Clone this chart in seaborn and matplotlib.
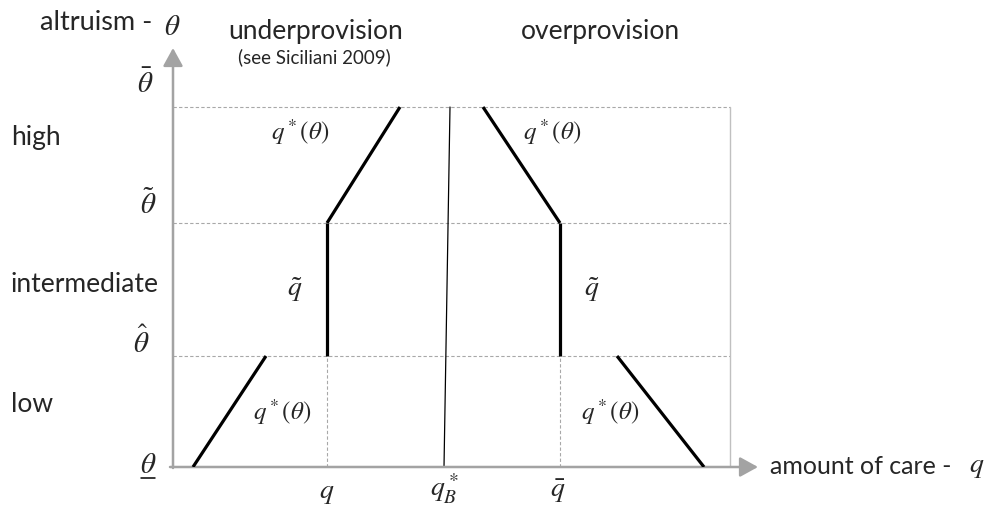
import matplotlib
matplotlib.use("Agg")
import matplotlib.pyplot as plt
import pandas as pd
import seaborn as sns

# Altruism thresholds (vertical axis): theta_low, theta_hat, theta_tilde, theta_bar
theta_levels = [0, 111, 244, 360]
# Care thresholds (horizontal axis): q_, q_B*, q_bar, right edge
q_under = 154
q_first_best = [271, 277]
q_over = 387
q_edge = 557

# Optimal care schedules q*(theta) in each altruism band
seg_names = ["under_low", "under_mid", "under_high",
             "over_high", "over_mid", "over_low"]
seg_q = [[20, 93], [154, 154], [154, 227],
         [310, 387], [387, 387], [444, 531]]
seg_theta = [[0, 111], [111, 244], [244, 360],
             [360, 244], [244, 111], [111, 0]]

band_labels = ["high", "intermediate", "low"]

sns.set_theme(style="white")
plt.rcParams["font.family"] = ["Lato", "DejaVu Sans"]
plt.rcParams["mathtext.fontset"] = "stix"

fig = plt.figure(figsize=(9.85, 5.07), dpi=100)
W, H = 985, 507
x0, y0 = 173, 467
x_tip, y_tip = 758, 48
ax = fig.add_axes([x0 / W, (H - y0) / H, (x_tip - x0) / W, (y0 - y_tip) / H])
ax.set_xlim(0, x_tip - x0)
ax.set_ylim(0, y0 - y_tip)
ax.axis("off")

grid_c = "#a8a8a8"
axis_c = "#a3a3a3"
TXT = 19
MATH = 20

# Dashed threshold lines
for t in theta_levels[1:]:
    ax.plot([0, q_edge], [t, t], color=grid_c, lw=0.8, ls=(0, (3, 2)), zorder=1)
for q in (q_under, q_over):
    ax.plot([q, q], [0, theta_levels[1]], color=grid_c, lw=0.8, ls=(0, (3, 2)), zorder=1)
ax.plot([q_edge, q_edge], [0, theta_levels[3]], color="#c0c0c0", lw=1.0, zorder=1)

# First-best care level
fb = pd.DataFrame({"q": q_first_best, "theta": [0, theta_levels[3]]})
sns.lineplot(data=fb, x="q", y="theta", color="black", lw=0.9, sort=False,
             estimator=None, ax=ax, zorder=3)

# Care schedules
rows = []
for name, qs, ts in zip(seg_names, seg_q, seg_theta):
    for q, t in zip(qs, ts):
        rows.append({"segment": name, "q": q, "theta": t})
segs = pd.DataFrame(rows)
sns.lineplot(data=segs, x="q", y="theta", units="segment", estimator=None,
             sort=False, color="black", lw=2.3, ax=ax, zorder=4,
             solid_capstyle="butt")

# Axes with arrow heads
arrow = dict(arrowstyle="-|>,head_length=1.0,head_width=0.55", color=axis_c,
             lw=1.8, mutation_scale=11, shrinkA=0, shrinkB=0)
ax.annotate("", xy=(x_tip - x0, 0), xytext=(-3, 0), arrowprops=arrow,
            annotation_clip=False)
ax.annotate("", xy=(0, y0 - y_tip), xytext=(0, -1), arrowprops=arrow,
            annotation_clip=False)

# Axis titles
ax.text(-133, 445, "altruism -", fontsize=TXT + 0.5, ha="left", va="center")
ax.text(-1, 440, r"$\theta$", fontsize=MATH + 1, ha="center", va="center")
ax.text(597, 0, "amount of care -", fontsize=TXT - 1, ha="left", va="center")
ax.text(804, 0, r"$q$", fontsize=MATH, ha="center", va="center")

# Regime headings
ax.text(143, 436, "underprovision", fontsize=TXT, ha="center", va="center")
ax.text(141, 410, "(see Siciliani 2009)", fontsize=13.5, ha="center", va="center")
ax.text(427, 436, "overprovision", fontsize=TXT, ha="center", va="center")

# Altruism bands
for lab, yy in zip(band_labels, [329, 182, 62]):
    ax.text(-162, yy, lab, fontsize=TXT, ha="left", va="center")

# Threshold labels on the vertical axis
ax.text(-28, 384, r"$\bar{\theta}$", fontsize=MATH + 1, ha="center", va="center")
ax.text(-25, 263, r"$\tilde{\theta}$", fontsize=MATH + 1, ha="center", va="center")
ax.text(-32, 125, r"$\hat{\theta}$", fontsize=MATH + 1, ha="center", va="center")
ax.text(-25, 2, r"$\theta$", fontsize=MATH + 1, ha="center", va="center")
ax.plot([-32, -18], [-11, -11], color="black", lw=1.1, clip_on=False)

# Threshold labels on the horizontal axis
ax.text(q_under, -26, r"$q$", fontsize=MATH, ha="center", va="center")
ax.text(sum(q_first_best) / 2 - 3, -22, r"$q_B^*$", fontsize=MATH, ha="center", va="center")
ax.text(q_over - 2, -24, r"$\bar{q}$", fontsize=MATH, ha="center", va="center")

# Schedule labels
for (xx, yy) in [(127, 335), (379, 335), (109, 55), (437, 55)]:
    ax.text(xx, yy, r"$q^*(\theta)$", fontsize=MATH - 2, ha="center", va="center")
for xx in (122, 419):
    ax.text(xx, 177, r"$\tilde{q}$", fontsize=MATH, ha="center", va="center")

fig.savefig("out.png", dpi=100)
